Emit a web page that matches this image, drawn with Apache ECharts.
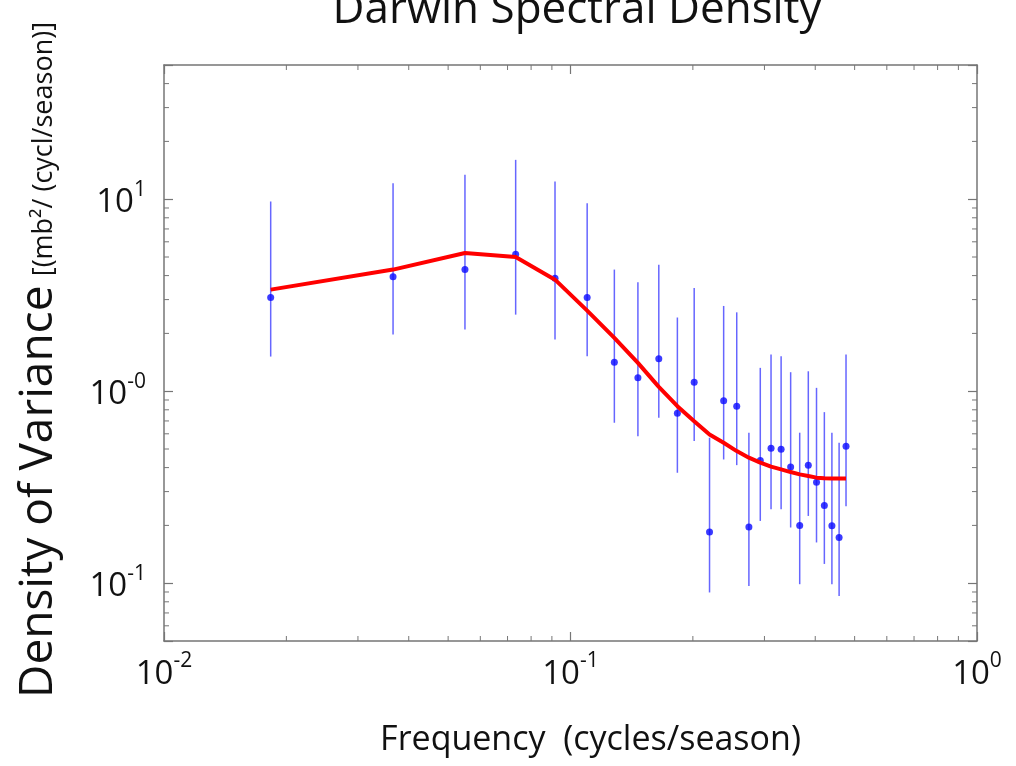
<!DOCTYPE html>
<html><head><meta charset="utf-8">
<script src="https://cdn.jsdelivr.net/npm/echarts@6/dist/echarts.min.js"></script>
<style>html,body{margin:0;padding:0;background:#fff}#c{width:1016px;height:766px}</style>
</head><body><div id="c"></div>
<script>
// Frequencies (cycles/season)
const frequency = [0.0183, 0.0366, 0.0550, 0.0733, 0.0916, 0.1099, 0.1282, 0.1465, 0.1649, 0.1832,
  0.2015, 0.2198, 0.2381, 0.2564, 0.2747, 0.2930, 0.3114, 0.3297, 0.3480, 0.3663,
  0.3846, 0.4029, 0.4212, 0.4396, 0.4579, 0.4762];
// Periodogram estimates (blue dots)
const density = [3.08, 3.95, 4.30, 5.16, 3.87, 3.08, 1.415, 1.174, 1.474, 0.768,
  1.114, 0.185, 0.891, 0.836, 0.196, 0.436, 0.505, 0.499, 0.403, 0.200,
  0.412, 0.336, 0.254, 0.199, 0.173, 0.516];
// Confidence interval bounds (blue bars)
const ciLower = [1.515, 1.972, 2.094, 2.505, 1.857, 1.52, 0.685, 0.583, 0.727, 0.376,
  0.55, 0.0895, 0.441, 0.412, 0.0968, 0.211, 0.243, 0.243, 0.195, 0.0988,
  0.224, 0.163, 0.126, 0.0988, 0.0859, 0.252];
const ciUpper = [9.73, 12.12, 13.39, 16.03, 12.36, 9.54, 4.30, 3.69, 4.56, 2.42,
  3.45, 0.5725, 2.78, 2.575, 0.608, 1.323, 1.551, 1.52, 1.256, 0.608,
  1.27, 1.041, 0.778, 0.608, 0.539, 1.551];
// Fitted spectrum (red line)
const fitted = [3.38, 4.30, 5.245, 5.0, 3.81, 2.63, 1.895, 1.405, 1.054, 0.836,
  0.698, 0.595, 0.539, 0.4875, 0.4505, 0.4243, 0.4045, 0.3916, 0.3792, 0.3687,
  0.3614, 0.3546, 0.3516, 0.3505, 0.3505, 0.3505];

// Tick labels (base 10 with exponent)
const xTickValues = [0.01, 0.1, 1];
const xTickExponents = ['-2', '-1', '0'];
const yTickValues = [0.1, 1, 10];
const yTickExponents = ['-1', '-0', '1'];
// Minor tick positions
const xMinorTicks = [0.02,0.03,0.04,0.05,0.06,0.07,0.08,0.09,0.2,0.3,0.4,0.5,0.6,0.7,0.8,0.9];
const yMinorTicks = [0.06,0.07,0.08,0.09,0.2,0.3,0.4,0.5,0.6,0.7,0.8,0.9,2,3,4,5,6,7,8,9,20,30,40];

const FONT = 'Open Sans';
const AXIS_COLOR = '#767676';
const TEXT_COLOR = '#111';

function tickFormatter(values, exps) {
  return function (v) {
    for (let i = 0; i < values.length; i++) {
      if (Math.abs(Math.log10(v) - Math.log10(values[i])) < 1e-6) {
        return '{b|10}{s|' + exps[i] + '}';
      }
    }
    return '';
  };
}
const labelRich = {
  b: { fontFamily: FONT, fontSize: 33, color: TEXT_COLOR, verticalAlign: 'bottom', lineHeight: 40 },
  s: { fontFamily: FONT, fontSize: 21, color: TEXT_COLOR, verticalAlign: 'top', lineHeight: 22 }
};

const chart = echarts.init(document.getElementById('c'), null, { renderer: 'canvas' });

function axisCommon() {
  return {
    type: 'log', logBase: 10,
    axisLine: { show: true, onZero: false, lineStyle: { color: AXIS_COLOR, width: 1.5 } },
    axisTick: { show: true, inside: true, length: 9, lineStyle: { color: AXIS_COLOR, width: 1.2 } },
    minorTick: { show: false },
    splitLine: { show: false },
    minorSplitLine: { show: false }
  };
}

const option = {
  backgroundColor: '#ffffff',
  animation: false,
  title: {
    text: 'Darwin Spectral Density',
    left: 572, top: -17, textAlign: 'center',
    textStyle: { fontFamily: FONT, fontSize: 44, fontWeight: 'normal', color: TEXT_COLOR }
  },
  grid: { left: 164, right: 39, top: 65, bottom: 125, containLabel: false },
  xAxis: [
    Object.assign(axisCommon(), {
      position: 'bottom', min: 0.01, max: 1,
      axisLabel: { show: true, margin: 10, formatter: tickFormatter(xTickValues, xTickExponents), rich: labelRich, showMinLabel: true, showMaxLabel: true },
      name: 'Frequency  (cycles/season)', nameLocation: 'middle', nameGap: 82,
      nameTextStyle: { fontFamily: FONT, fontSize: 34, color: TEXT_COLOR, padding: [0, 0, 0, 40] }
    }),
    Object.assign(axisCommon(), {
      position: 'top', min: 0.01, max: 1, axisLabel: { show: false }
    })
  ],
  yAxis: [
    Object.assign(axisCommon(), {
      position: 'left', min: 0.05, max: 50,
      axisLabel: { show: true, margin: 18, formatter: tickFormatter(yTickValues, yTickExponents), rich: labelRich },
      name: '{big|Density of Variance} {small|[(mb²/ (cycl/season)]}',
      nameLocation: 'middle', nameRotate: 90, nameGap: 102,
      nameTextStyle: {
        color: TEXT_COLOR,
        padding: [0, 14, 0, 0],
        rich: {
          big: { fontFamily: FONT, fontSize: 46, color: TEXT_COLOR, verticalAlign: 'bottom' },
          small: { fontFamily: FONT, fontSize: 27, color: TEXT_COLOR, verticalAlign: 'bottom', padding: [0, 0, 4, 6] }
        }
      }
    }),
    Object.assign(axisCommon(), {
      position: 'right', min: 0.05, max: 50, axisLabel: { show: false }
    })
  ],
  series: [
    {
      type: 'custom', name: 'minorX', silent: true, clip: false, z: 1,
      xAxisIndex: 0, yAxisIndex: 0,
      data: xMinorTicks.map(v => [v, 1]),
      renderItem: function (params, api) {
        const cs = params.coordSys;
        const p = api.coord([api.value(0), 1]);
        const st = { stroke: AXIS_COLOR, lineWidth: 1 };
        return { type: 'group', children: [
          { type: 'line', shape: { x1: p[0], y1: cs.y + cs.height, x2: p[0], y2: cs.y + cs.height - 5 }, style: st },
          { type: 'line', shape: { x1: p[0], y1: cs.y, x2: p[0], y2: cs.y + 5 }, style: st }
        ] };
      }
    },
    {
      type: 'custom', name: 'minorY', silent: true, clip: false, z: 1,
      xAxisIndex: 0, yAxisIndex: 0,
      data: yMinorTicks.map(v => [0.1, v]),
      renderItem: function (params, api) {
        const cs = params.coordSys;
        const p = api.coord([0.1, api.value(1)]);
        const st = { stroke: AXIS_COLOR, lineWidth: 1 };
        return { type: 'group', children: [
          { type: 'line', shape: { x1: cs.x, y1: p[1], x2: cs.x + 5, y2: p[1] }, style: st },
          { type: 'line', shape: { x1: cs.x + cs.width, y1: p[1], x2: cs.x + cs.width - 5, y2: p[1] }, style: st }
        ] };
      }
    },
    {
      type: 'custom', name: 'ci', silent: true, z: 2,
      xAxisIndex: 0, yAxisIndex: 0,
      data: frequency.map((f, i) => [f, ciLower[i], ciUpper[i]]),
      encode: { x: 0, y: [1, 2] },
      renderItem: function (params, api) {
        const lo = api.coord([api.value(0), api.value(1)]);
        const hi = api.coord([api.value(0), api.value(2)]);
        return { type: 'line', shape: { x1: lo[0], y1: lo[1], x2: hi[0], y2: hi[1] },
          style: { stroke: '#6666ff', lineWidth: 1.5 } };
      }
    },
    {
      type: 'scatter', name: 'estimate', z: 3,
      xAxisIndex: 0, yAxisIndex: 0,
      data: frequency.map((f, i) => [f, density[i]]),
      symbol: 'circle', symbolSize: 7,
      itemStyle: { color: '#0a0aff' }
    },
    {
      type: 'line', name: 'fit', z: 4,
      xAxisIndex: 0, yAxisIndex: 0,
      data: frequency.map((f, i) => [f, fitted[i]]),
      symbol: 'none', smooth: false,
      lineStyle: { color: '#ff0000', width: 4 }
    }
  ]
};
chart.setOption(option);
</script>
</body></html>
